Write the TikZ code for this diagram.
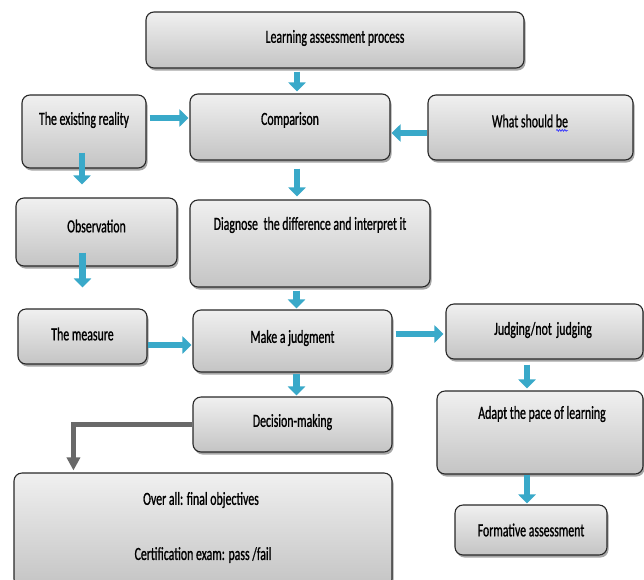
\documentclass[tikz,border=0pt]{standalone}
\usepackage{fontspec}
\setmainfont[FakeStretch=0.64,FakeBold=0.9]{Carlito}
\usetikzlibrary{arrows.meta,shadows,decorations.pathmorphing}
\definecolor{arrowblue}{RGB}{57,169,201}
\definecolor{boxtop}{RGB}{240,240,240}
\definecolor{boxbot}{RGB}{196,196,196}
\definecolor{boxline}{RGB}{40,40,40}
\definecolor{grayarrow}{RGB}{105,105,105}
\tikzset{
  box/.style={draw=boxline, line width=1.1pt, rounded corners=8pt,
    top color=boxtop, bottom color=boxbot,
    drop shadow={shadow xshift=1.5pt, shadow yshift=-2.5pt, opacity=0.35, fill=black},
    inner sep=0pt},
  txt/.style={inner sep=0pt, text=black, font=\fontsize{18.5}{21}\selectfont},
  barrow/.style={draw=arrowblue, line width=6.5pt,
    -{Triangle[width=17pt,length=9pt]}},
  garrow/.style={draw=grayarrow, line width=5pt,
    -{Triangle[width=13pt,length=13pt]}},
  squig/.style={draw=blue!80!white, line width=0.7pt, decorate,
    decoration={snake, amplitude=0.9pt, segment length=2.6pt}}
}
\begin{document}
\begin{tikzpicture}[x=1pt,y=-1pt]
\useasboundingbox[fill=white] (0,0) rectangle (644,579);
% boxes
\node[box, minimum width=378pt, minimum height=56pt] (lap) at (335,40) {};
\node[box, minimum width=124pt, minimum height=73pt] (er) at (84,131.5) {};
\node[box, minimum width=200pt, minimum height=66pt] (cmp) at (290,127) {};
\node[box, minimum width=205pt, minimum height=65pt] (wsb) at (530.5,127.5) {};
\node[box, minimum width=161pt, minimum height=68pt] (obs) at (96.5,232) {};
\node[box, minimum width=240pt, minimum height=87pt] (dia) at (310,243.5) {};
\node[box, minimum width=129pt, minimum height=55pt] (mea) at (82.5,336.5) {};
\node[box, minimum width=199pt, minimum height=62pt] (mj) at (292.5,341) {};
\node[box, minimum width=197pt, minimum height=55pt] (jnj) at (544.5,331.5) {};
\node[box, minimum width=206pt, minimum height=83pt] (apl) at (540,432.5) {};
\node[box, minimum width=199pt, minimum height=55pt] (dm) at (292.5,424.5) {};
\node[box, minimum width=378pt, minimum height=114pt] (ova) at (203,530) {};
\node[box, minimum width=152pt, minimum height=50pt] (fa) at (531,530) {};
% texts
\node[txt] (t1) at (335,38) {Learning assessment process};
\node[txt] (t2) at (84,120) {The existing reality};
\node[txt] (t3) at (290,120) {Comparison};
\node[txt] (t4) at (530,121) {What should be};
\node[txt] (t5) at (96.5,226) {Observation};
\node[txt] (t6) at (310,225) {Diagnose\hspace{3pt} the difference and interpret it};
\node[txt] (t7) at (82.5,334) {The measure};
\node[txt] (t8) at (292.5,338) {Make a judgment};
\node[txt] (t9) at (543,330) {Judging/not\hspace{2pt} judging};
\node[txt] (t10) at (292.5,422) {Decision-making};
\node[txt] (t11) at (542,414) {Adapt the pace of learning};
\node[txt] (t12) at (201,500) {Over all: final objectives};
\node[txt] (t13) at (203,555) {Certification exam: pass /fail};
\node[txt] (t14) at (531,530) {Formative assessment};
\draw[squig] ([xshift=-12pt,yshift=-3pt]t4.base east) -- ([yshift=-3pt]t4.base east);
% blue arrows
\draw[barrow, shorten <=3pt, shorten >=2pt] ([xshift=7pt]cmp.north |- lap.south) -- ([xshift=7pt]cmp.north);
\draw[barrow, shorten <=3pt, shorten >=1pt] ([yshift=13.5pt]er.east) -- ([yshift=9pt]cmp.west);
\draw[barrow, shorten >=1pt] ([yshift=-5.5pt]wsb.west) -- ([yshift=-6pt]cmp.east);
\draw[barrow, shorten <=-16pt, shorten >=13pt] ([xshift=-2pt]er.south) -- ([xshift=-2pt]er.south |- obs.north);
\draw[barrow, shorten <=-14pt, shorten >=21pt] (mea.north |- obs.south) -- (mea.north);
\draw[barrow, shorten <=8pt, shorten >=3pt] ([xshift=7pt]cmp.south) -- ([xshift=7pt]cmp.south |- dia.north);
\draw[barrow, shorten <=3pt, shorten >=1pt] ([xshift=4pt]mj.north |- dia.south) -- ([xshift=4pt]mj.north);
\draw[barrow, shorten >=1pt] ([yshift=-8.5pt]mea.east) -- ([yshift=-4pt]mj.west);
\draw[barrow, shorten <=3pt, shorten >=2pt] ([yshift=7pt]mj.east) -- ([yshift=-2.5pt]jnj.west);
\draw[barrow, shorten <=1pt, shorten >=1pt] ([xshift=4pt]mj.south) -- ([xshift=4pt]dm.north);
\draw[barrow, shorten <=5pt, shorten >=2pt] ([xshift=-13pt]apl.north |- jnj.south) -- ([xshift=-13pt]apl.north);
\draw[barrow, shorten >=1pt] ([xshift=-13pt]apl.south) -- ([xshift=-13pt]apl.south |- fa.north);
% gray arrow
\draw[garrow, shorten >=2pt] (dm.west) -| ([xshift=60pt]ova.north west);
\end{tikzpicture}
\end{document}
